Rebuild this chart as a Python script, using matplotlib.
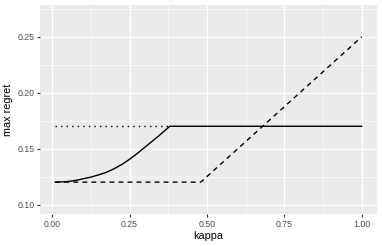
import numpy as np
import matplotlib
matplotlib.use("Agg")
import matplotlib.pyplot as plt
from matplotlib.ticker import MultipleLocator

# values
kappa_solid = [0.01, 0.03, 0.05, 0.075, 0.10, 0.125, 0.15, 0.175, 0.20, 0.225,
               0.25, 0.275, 0.30, 0.325, 0.35, 0.365, 0.38, 1.00]
regret_solid = [0.1200, 0.1202, 0.1206, 0.1215, 0.1230, 0.1245, 0.1265, 0.1288,
                0.1320, 0.1358, 0.1405, 0.1457, 0.1514, 0.1570, 0.1628, 0.1664,
                0.1700, 0.1700]

kappa_dashed = [0.01, 0.48, 1.00]
regret_dashed = [0.120, 0.120, 0.250]

kappa_dotted = [0.01, 0.38]
regret_dotted = [0.170, 0.170]

xticks = [0.00, 0.25, 0.50, 0.75, 1.00]
yticks = [0.10, 0.15, 0.20, 0.25]

plt.rcParams['font.family'] = ['Liberation Sans', 'DejaVu Sans']

fig = plt.figure(figsize=(3.82, 2.46), dpi=100)
ax = fig.add_axes([40 / 382, 1 - 214 / 246, 337 / 382, 209 / 246])
ax.set_facecolor('#EBEBEB')

ax.plot(kappa_dotted, regret_dotted, color='black', lw=1.0, dashes=(1, 3))
ax.plot(kappa_dashed, regret_dashed, color='black', lw=1.0, dashes=(3.5, 3))
ax.plot(kappa_solid, regret_solid, color='black', lw=1.0)

ax.set_xlim(-0.0395, 1.0495)
ax.set_ylim(0.0915, 0.2785)
ax.set_xticks(xticks)
ax.set_yticks(yticks)
ax.set_xticklabels(['%.2f' % v for v in xticks])
ax.set_yticklabels(['%.2f' % v for v in yticks])
ax.xaxis.set_minor_locator(MultipleLocator(0.125))
ax.yaxis.set_minor_locator(MultipleLocator(0.025))

ax.grid(which='major', color='white', lw=0.9)
ax.grid(which='minor', color='white', lw=0.45)
ax.set_axisbelow(True)
for s in ax.spines.values():
    s.set_visible(False)

ax.tick_params(which='major', length=2.5, width=0.8, color='#333333',
               labelsize=6.3, labelcolor='#4D4D4D', pad=1.5)
ax.tick_params(which='minor', length=0)

ax.set_xlabel('kappa', fontsize=7.8, labelpad=1.5)
ax.set_ylabel('max regret', fontsize=7.8, labelpad=3)

fig.savefig('out.png', dpi=100)
